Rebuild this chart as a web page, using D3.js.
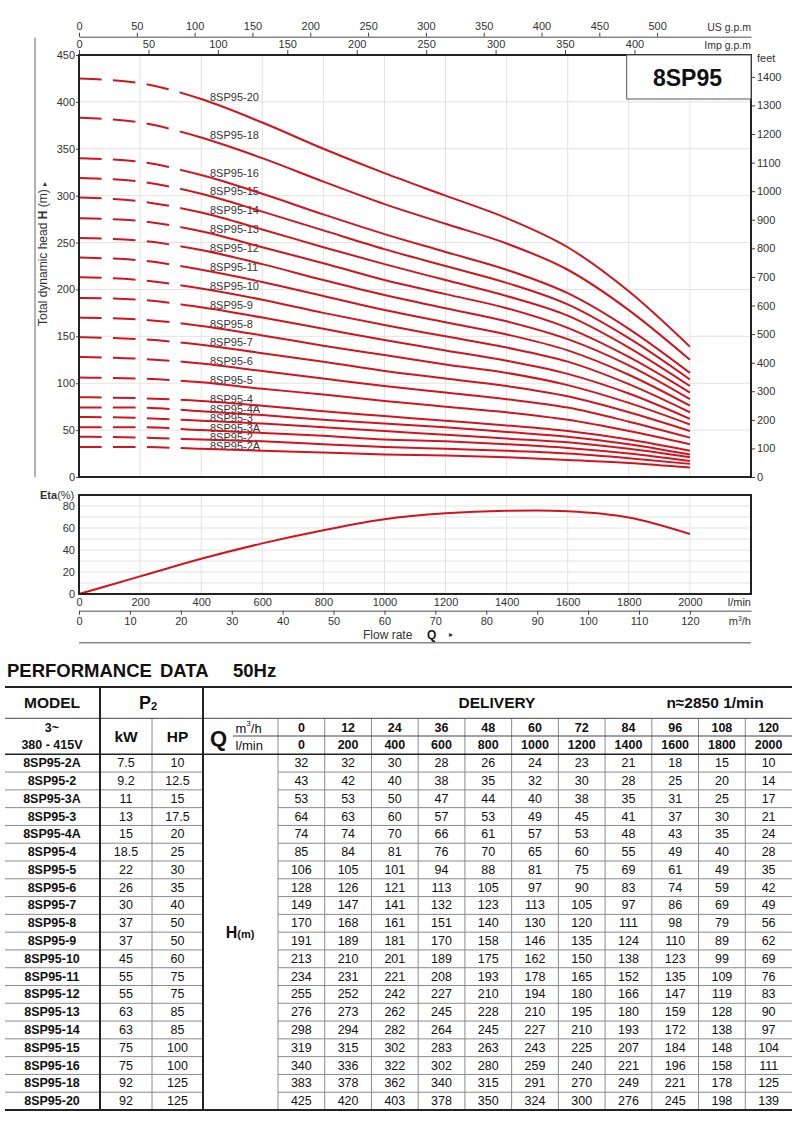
<!DOCTYPE html>
<html>
<head>
<meta charset="utf-8">
<script src="https://cdn.jsdelivr.net/npm/d3@7"></script>
<style>
  body { margin: 0; background: #fff; }
  svg { display: block; }
</style>
</head>
<body>
<main></main>
<script>
const width = 800;
const height = 1131;
const font = '"Liberation Sans", Arial, Helvetica, sans-serif';
const red = '#d2141e';

// ---- data ----
const models = ['8SP95-2A', '8SP95-2', '8SP95-3A', '8SP95-3', '8SP95-4A', '8SP95-4', '8SP95-5', '8SP95-6',
                '8SP95-7', '8SP95-8', '8SP95-9', '8SP95-10', '8SP95-11', '8SP95-12', '8SP95-13', '8SP95-14',
                '8SP95-15', '8SP95-16', '8SP95-18', '8SP95-20'];
const powerKw = ['7.5', '9.2', '11', '13', '15', '18.5', '22', '26', '30', '37', '37', '45', '55', '55', '63', '63', '75', '75', '92', '92'];
const powerHp = ['10', '12.5', '15', '17.5', '20', '25', '30', '35', '40', '50', '50', '60', '75', '75', '85', '85', '100', '100', '125', '125'];
const flowM3h = [0, 12, 24, 36, 48, 60, 72, 84, 96, 108, 120];
const flowLmin = [0, 200, 400, 600, 800, 1000, 1200, 1400, 1600, 1800, 2000];
const heads = [
    [32, 32, 30, 28, 26, 24, 23, 21, 18, 15, 10],
    [43, 42, 40, 38, 35, 32, 30, 28, 25, 20, 14],
    [53, 53, 50, 47, 44, 40, 38, 35, 31, 25, 17],
    [64, 63, 60, 57, 53, 49, 45, 41, 37, 30, 21],
    [74, 74, 70, 66, 61, 57, 53, 48, 43, 35, 24],
    [85, 84, 81, 76, 70, 65, 60, 55, 49, 40, 28],
    [106, 105, 101, 94, 88, 81, 75, 69, 61, 49, 35],
    [128, 126, 121, 113, 105, 97, 90, 83, 74, 59, 42],
    [149, 147, 141, 132, 123, 113, 105, 97, 86, 69, 49],
    [170, 168, 161, 151, 140, 130, 120, 111, 98, 79, 56],
    [191, 189, 181, 170, 158, 146, 135, 124, 110, 89, 62],
    [213, 210, 201, 189, 175, 162, 150, 138, 123, 99, 69],
    [234, 231, 221, 208, 193, 178, 165, 152, 135, 109, 76],
    [255, 252, 242, 227, 210, 194, 180, 166, 147, 119, 83],
    [276, 273, 262, 245, 228, 210, 195, 180, 159, 128, 90],
    [298, 294, 282, 264, 245, 227, 210, 193, 172, 138, 97],
    [319, 315, 302, 283, 263, 243, 225, 207, 184, 148, 104],
    [340, 336, 322, 302, 280, 259, 240, 221, 196, 158, 111],
    [383, 378, 362, 340, 315, 291, 270, 249, 221, 178, 125],
    [425, 420, 403, 378, 350, 324, 300, 276, 245, 198, 139]
];
const etaFlow = [0, 200, 400, 600, 800, 1000, 1200, 1400, 1500, 1600, 1800, 2000];
const etaValues = [0, 16, 32, 46, 58, 68, 73.3, 75.7, 76, 75.2, 69.5, 54.5];

const headTicks = [0, 50, 100, 150, 200, 250, 300, 350, 400, 450];
const feetTicks = [0, 100, 200, 300, 400, 500, 600, 700, 800, 900, 1000, 1100, 1200, 1300, 1400];
const usGpmTicks = [0, 50, 100, 150, 200, 250, 300, 350, 400, 450, 500];
const impGpmTicks = [0, 50, 100, 150, 200, 250, 300, 350, 400];
const lminTicks = [0, 200, 400, 600, 800, 1000, 1200, 1400, 1600, 1800, 2000];
const m3hTicks = [0, 10, 20, 30, 40, 50, 60, 70, 80, 90, 100, 110, 120];
const etaTicks = [0, 20, 40, 60, 80];
const etaGrid = [10, 20, 30, 40, 50, 60, 70, 80];
const dashedUpTo = 333.3; // l/min, curves drawn dashed below 20 m3/h

const createCanvas = () => {
    return d3.select('main')
             .append('svg')
             .attr('width', width)
             .attr('height', height)
             .attr('font-family', font);
};

const svg = createCanvas();
const plain = d3.format('d');

// ---- scales ----
const plot = {left: 79, right: 751, top: 55, bottom: 477};
const eta = {top: 495, bottom: 594};
const x = d3.scaleLinear().domain([0, 2200]).range([plot.left, plot.right]);
const y = d3.scaleLinear().domain([0, 450]).range([plot.bottom, plot.top]);
const yFeet = d3.scaleLinear().domain([0, 450 / 0.3048]).range([plot.bottom, plot.top]);
const xUs = d3.scaleLinear().domain([0, 2200 / 3.7854]).range([plot.left, plot.right]);
const xImp = d3.scaleLinear().domain([0, 2200 / 4.5461]).range([plot.left, plot.right]);
const xM3h = d3.scaleLinear().domain([0, 2200 * 0.06]).range([plot.left, plot.right]);
const yEta = d3.scaleLinear().domain([0, 90]).range([eta.bottom, eta.top]);

const styleAxis = (g, hideDomain) => {
    g.attr('font-family', font).attr('font-size', 11);
    g.selectAll('text').attr('fill', '#333');
    g.selectAll('line').attr('stroke', '#444');
    if (hideDomain) g.select('.domain').remove();
    else g.select('.domain').attr('stroke', '#888').attr('stroke-width', 1.5);
};

// ---- grids ----
const grid = svg.append('g').attr('stroke', '#e2e2e2').attr('stroke-width', 1);
grid.selectAll('.gv').data(lminTicks.slice(1)).enter().append('line')
    .attr('x1', d => x(d)).attr('x2', d => x(d)).attr('y1', plot.top).attr('y2', plot.bottom);
grid.selectAll('.gh').data(headTicks.slice(1, -1)).enter().append('line')
    .attr('x1', plot.left).attr('x2', plot.right).attr('y1', d => y(d)).attr('y2', d => y(d));
grid.selectAll('.ev').data(lminTicks.slice(1)).enter().append('line')
    .attr('x1', d => x(d)).attr('x2', d => x(d)).attr('y1', eta.top).attr('y2', eta.bottom);
grid.selectAll('.eh').data(etaGrid).enter().append('line')
    .attr('x1', plot.left).attr('x2', plot.right).attr('y1', d => yEta(d)).attr('y2', d => yEta(d));

// ---- axes ----
svg.append('g').attr('transform', `translate(${plot.left},0)`)
   .call(d3.axisLeft(y).tickValues(headTicks).tickFormat(plain).tickSize(3).tickPadding(1).tickSizeOuter(0))
   .call(g => styleAxis(g, true));

svg.append('g').attr('transform', `translate(${plot.right},0)`)
   .call(d3.axisRight(yFeet).tickValues(feetTicks).tickFormat(plain).tickSize(4).tickPadding(2).tickSizeOuter(0))
   .call(g => styleAxis(g, true));

svg.append('g').attr('transform', 'translate(0,36.7)')
   .call(d3.axisTop(xUs).tickValues(usGpmTicks).tickFormat(plain).tickSize(4).tickPadding(3).tickSizeOuter(0))
   .call(g => styleAxis(g, false));

svg.append('g').attr('transform', `translate(0,${plot.top})`)
   .call(d3.axisTop(xImp).tickValues(impGpmTicks).tickFormat(plain).tickSize(5).tickPadding(2).tickSizeOuter(0))
   .call(g => styleAxis(g, true));

svg.append('g').attr('transform', `translate(${plot.left},0)`)
   .call(d3.axisLeft(yEta).tickValues(etaTicks).tickFormat(plain).tickSize(0).tickPadding(4))
   .call(g => styleAxis(g, true));

svg.append('g').attr('transform', `translate(0,${eta.bottom})`)
   .call(d3.axisBottom(x).tickValues(lminTicks).tickFormat(plain).tickSize(0).tickPadding(4))
   .call(g => styleAxis(g, true));

svg.append('g').attr('transform', 'translate(0,610.7)')
   .call(d3.axisBottom(xM3h).tickValues(m3hTicks).tickFormat(plain).tickSize(4).tickPadding(2.5).tickSizeOuter(0))
   .call(g => styleAxis(g, false));

// unit labels
const label = (tx, ty, text, anchor, size, weight) => {
    return svg.append('text')
              .attr('x', tx).attr('y', ty)
              .attr('text-anchor', anchor || 'start')
              .attr('font-size', size || 11)
              .attr('font-weight', weight || 'normal')
              .attr('fill', '#333')
              .text(text);
};
label(plot.right, 31, 'US g.p.m', 'end', 10.5);
label(plot.right, 48.5, 'Imp g.p.m', 'end', 10.5);
label(757, 62, 'feet', 'start', 11);
label(plot.right, 605.5, 'l/min', 'end', 11);
const m3 = label(plot.right, 625, 'm', 'end', 11);
m3.text(null);
m3.append('tspan').text('m');
m3.append('tspan').attr('font-size', 7).attr('dy', -4).text('3');
m3.append('tspan').attr('dy', 4).text('/h');
label(363, 638.5, 'Flow rate', 'start', 12);
label(427, 638.5, 'Q', 'start', 12, 'bold').attr('fill', '#111');
label(449, 637, '▸', 'start', 8);

const eLab = label(40, 498.5, '', 'start', 11);
eLab.append('tspan').attr('font-weight', 'bold').text('Eta');
eLab.append('tspan').text('(%)');

const yTitle = svg.append('text')
    .attr('transform', 'translate(47,254) rotate(-90)')
    .attr('text-anchor', 'middle')
    .attr('font-size', 12)
    .attr('fill', '#333');
yTitle.append('tspan').text('Total dynamic head ');
yTitle.append('tspan').attr('font-weight', 'bold').text('H');
yTitle.append('tspan').text(' (m) ');
yTitle.append('tspan').attr('font-size', 8).text('▸');

svg.append('line').attr('x1', 35).attr('x2', 35).attr('y1', 37.7).attr('y2', plot.bottom)
   .attr('stroke', '#999').attr('stroke-width', 1.5);
svg.append('line').attr('x1', plot.left).attr('x2', plot.right).attr('y1', 642.7).attr('y2', 642.7)
   .attr('stroke', '#888').attr('stroke-width', 1.5);

// ---- head curves ----
const defs = svg.append('defs');
defs.append('clipPath').attr('id', 'clip-dash').append('rect')
    .attr('x', plot.left).attr('y', plot.top).attr('width', x(dashedUpTo) - plot.left).attr('height', plot.bottom - plot.top);
defs.append('clipPath').attr('id', 'clip-solid').append('rect')
    .attr('x', x(dashedUpTo)).attr('y', plot.top).attr('width', plot.right - x(dashedUpTo)).attr('height', plot.bottom - plot.top);

const headLine = d3.line().x(d => x(d[0])).y(d => y(d[1])).curve(d3.curveMonotoneX);
const curves = heads.map(row => flowLmin.map((q, j) => [q, row[j]]));
const dashLen = (x(dashedUpTo) - plot.left) / 3;

// curve labels sit just above each curve at 400 l/min (they overlap in the original too)
svg.append('g').selectAll('text').data(models).enter().append('text')
   .attr('x', 210)
   .attr('y', (d, i) => y(heads[i][2]) + 1.5)
   .attr('font-size', 11)
   .attr('fill', '#333')
   .text(d => d);

const curveG = svg.append('g').attr('fill', 'none').attr('stroke', red).attr('stroke-width', 2);
curveG.selectAll('.dash').data(curves).enter().append('path')
      .attr('d', headLine)
      .attr('clip-path', 'url(#clip-dash)')
      .attr('stroke-dasharray', `${dashLen * 2 / 3},${dashLen / 3}`);
curveG.selectAll('.solid').data(curves).enter().append('path')
      .attr('d', headLine)
      .attr('clip-path', 'url(#clip-solid)');

// ---- efficiency ----
const etaLine = d3.line().x(d => x(d[0])).y(d => yEta(d[1])).curve(d3.curveMonotoneX);
svg.append('path')
   .datum(etaFlow.map((q, i) => [q, etaValues[i]]))
   .attr('d', etaLine)
   .attr('fill', 'none').attr('stroke', red).attr('stroke-width', 2);

// frames
svg.append('rect').attr('x', plot.left).attr('y', plot.top)
   .attr('width', plot.right - plot.left).attr('height', plot.bottom - plot.top)
   .attr('fill', 'none').attr('stroke', '#222').attr('stroke-width', 2);
svg.append('rect').attr('x', plot.left).attr('y', eta.top)
   .attr('width', plot.right - plot.left).attr('height', eta.bottom - eta.top)
   .attr('fill', 'none').attr('stroke', '#222').attr('stroke-width', 2);

// model box
svg.append('rect').attr('x', 626.7).attr('y', plot.top).attr('width', plot.right - 626.7).attr('height', 44)
   .attr('fill', '#fff').attr('stroke', '#555').attr('stroke-width', 1);
svg.append('text').attr('x', 687.5).attr('y', 85.5).attr('text-anchor', 'middle')
   .attr('font-size', 23).attr('font-weight', 'bold').attr('fill', '#111').text('8SP95');

// ---- performance table ----
const tb = {left: 5, right: 792, top: 687, row1: 718.3, mid: 736, head: 754.3, bottom: 1110};
const rowH = (tb.bottom - tb.head) / models.length;
const colX0 = 278;
const colW = (tb.right - colX0) / flowM3h.length;
const colCenter = j => colX0 + colW * (j + 0.5);
const rowCenter = i => tb.head + rowH * (i + 0.5);

const ttl = (tx, t) => svg.append('text').attr('x', tx).attr('y', 676.7)
    .attr('font-size', 18.5).attr('font-weight', 'bold').attr('fill', '#111').text(t);
ttl(7, 'PERFORMANCE');
ttl(160, 'DATA');
ttl(233, '50Hz');

const table = svg.append('g');
const hline = (x1, x2, yy, c, w) => table.append('line').attr('x1', x1).attr('x2', x2).attr('y1', yy).attr('y2', yy)
    .attr('stroke', c).attr('stroke-width', w);
const vline = (xx, y1, y2, c, w) => table.append('line').attr('x1', xx).attr('x2', xx).attr('y1', y1).attr('y2', y2)
    .attr('stroke', c).attr('stroke-width', w);

d3.range(1, models.length).forEach(r => {
    hline(tb.left, 203, tb.head + r * rowH, '#8a8a8a', 1);
    hline(colX0, tb.right, tb.head + r * rowH, '#8a8a8a', 1);
});
vline(152, tb.row1, tb.bottom, '#8a8a8a', 1);
d3.range(0, flowM3h.length).forEach(j => vline(colX0 + j * colW, tb.row1, tb.bottom, '#8a8a8a', 1));
hline(tb.left, tb.right, tb.row1, '#444', 1);
hline(233, tb.right, tb.mid, '#444', 1);
hline(tb.left, tb.right, tb.head, '#222', 1.5);
hline(tb.left, tb.right, tb.top, '#222', 2);
hline(tb.left, tb.right, tb.bottom, '#222', 2);
vline(100, tb.top, tb.bottom, '#222', 2);
vline(203, tb.top, tb.bottom, '#222', 2);

const cell = (tx, ty, t, size, weight, anchor) => table.append('text')
    .attr('x', tx).attr('y', ty)
    .attr('dominant-baseline', 'central')
    .attr('text-anchor', anchor || 'middle')
    .attr('font-size', size)
    .attr('font-weight', weight || 'normal')
    .attr('fill', '#111')
    .text(t);

cell(52, 702.5, 'MODEL', 15.5, 'bold');
const p2 = cell(148, 702.5, 'P', 18, 'bold');
p2.append('tspan').attr('font-size', 11).attr('dy', 3).text('2');
cell(497, 702.5, 'DELIVERY', 15.5, 'bold');
cell(715, 702.5, 'n≈2850 1/min', 15.5, 'bold');

cell(52, 727.5, '3~', 12.5, 'bold');
cell(52, 744.5, '380 - 415V', 12.5, 'bold');
cell(126, 736.5, 'kW', 15.5, 'bold');
cell(177.5, 736.5, 'HP', 15.5, 'bold');
cell(218.5, 738, 'Q', 22, 'bold');
const mh = cell(235.5, 727.5, '', 13, 'normal', 'start');
mh.append('tspan').text('m');
mh.append('tspan').attr('font-size', 8).attr('dy', -5).text('3');
mh.append('tspan').attr('dy', 5).text('/h');
cell(235.5, 745, 'l/min', 13, 'normal', 'start');

flowM3h.forEach((q, j) => cell(colCenter(j), 727.5, q, 12.5, 'bold'));
flowLmin.forEach((q, j) => cell(colCenter(j), 745, q, 12.5, 'bold'));

models.forEach((m, i) => {
    cell(52, rowCenter(i), m, 12.5, 'bold');
    cell(126, rowCenter(i), powerKw[i], 12.5);
    cell(177.5, rowCenter(i), powerHp[i], 12.5);
    heads[i].forEach((h, j) => cell(colCenter(j), rowCenter(i), h, 12.5));
});

const hm = cell(240, (tb.head + tb.bottom) / 2, 'H', 16, 'bold');
hm.append('tspan').attr('font-size', 11).attr('dy', 2).text('(m)');
</script>
</body>
</html>
